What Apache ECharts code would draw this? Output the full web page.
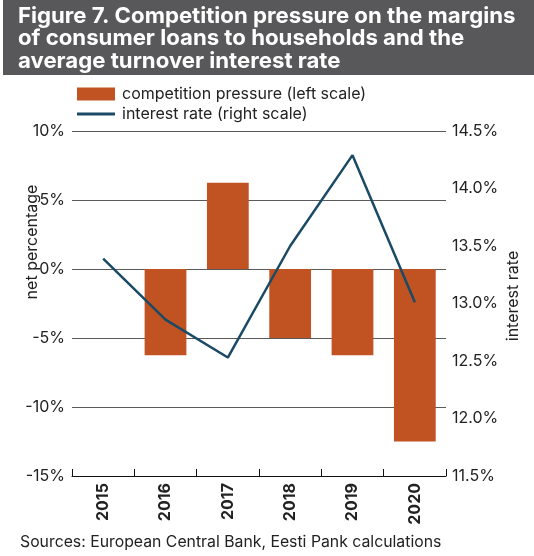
<!DOCTYPE html>
<html>
<head>
<meta charset="utf-8">
<script src="https://cdn.jsdelivr.net/npm/echarts@6/dist/echarts.min.js"></script>
<style>
  html, body { margin: 0; padding: 0; background: #fff; }
  #chart { width: 534px; height: 556px; }
</style>
</head>
<body>
<div id="chart"></div>
<script>
// Years on the category axis
var years = ['2015', '2016', '2017', '2018', '2019', '2020'];
// Net percentage of banks reporting competition pressure on margins (left scale)
var competitionPressure = [0, -6.25, 6.25, -5.0, -6.25, -12.5];
// Average turnover interest rate on consumer loans (right scale)
var interestRate = [13.39, 12.86, 12.53, 13.5, 14.29, 13.01];

var titleText = 'Figure 7. Competition pressure on the margins\nof consumer loans to households and the\naverage turnover interest rate';
var sourceText = 'Sources: European Central Bank, Eesti Pank calculations';
var barName = 'competition pressure (left scale)';
var lineName = 'interest rate (right scale)';
var leftAxisName = 'net percentage';
var rightAxisName = 'interest rate';

var FONT = 'Inter, "Liberation Sans", Arial, sans-serif';
var TEXT = '#222';
var FS = 16;
var chart = echarts.init(document.getElementById('chart'), null, { renderer: 'canvas' });

chart.setOption({
  animation: false,
  textStyle: { fontFamily: FONT },
  graphic: [
    { type: 'rect', left: 3, top: 0, shape: { width: 531, height: 75 }, style: { fill: '#58585a' }, z: 0 },
    { type: 'text', left: 18, top: 5, z: 1,
      style: { text: titleText, fill: '#ffffff', font: 'bold 22.2px ' + FONT, lineHeight: 22.5 } },
    { type: 'text', x: 32, y: 242, rotation: Math.PI / 2, z: 1,
      style: { text: leftAxisName, fill: TEXT, font: FS + 'px ' + FONT, align: 'center', verticalAlign: 'middle' } },
    { type: 'text', x: 513, y: 296, rotation: Math.PI / 2, z: 1,
      style: { text: rightAxisName, fill: TEXT, font: FS + 'px ' + FONT, align: 'center', verticalAlign: 'middle' } },
    { type: 'text', left: 20, top: 534, z: 1,
      style: { text: sourceText, fill: TEXT, font: '15.8px ' + FONT } }
  ],
  legend: {
    orient: 'vertical',
    left: 72,
    top: 81,
    itemWidth: 38,
    itemHeight: 13,
    itemGap: 4,
    textStyle: { fontSize: FS, color: TEXT, fontFamily: FONT, padding: [0, 0, 0, 2] },
    data: [
      { name: barName, icon: 'rect' },
      { name: lineName, icon: 'path://M0,0 L38,0 L38,3 L0,3 Z', itemStyle: { color: '#1b4a66' } }
    ]
  },
  grid: { left: 72, right: 88, top: 131, bottom: 80, outerBoundsMode: 'none', containLabel: false },
  xAxis: {
    type: 'category',
    data: years,
    position: 'bottom',
    axisLine: { onZero: false, lineStyle: { color: '#111', width: 1 } },
    axisTick: { show: true, inside: true, length: 7, lineStyle: { color: '#111' } },
    axisLabel: { rotate: 90, fontWeight: 'bold', fontSize: FS, color: TEXT, margin: 7, fontFamily: FONT },
    splitLine: { show: false }
  },
  yAxis: [
    {
      type: 'value',
      min: -15, max: 10, interval: 5,
      axisLine: { show: false },
      axisTick: { show: false },
      axisLabel: { fontSize: FS, color: TEXT, margin: 7, formatter: function (v) { return v + '%'; } },
      splitLine: { show: true, lineStyle: { color: '#5a5a5a', width: 1 } }
    },
    {
      type: 'value',
      min: 11.5, max: 14.5, interval: 0.5,
      axisLine: { show: false },
      axisTick: { show: false },
      axisLabel: { fontSize: FS, color: TEXT, margin: 6, formatter: function (v) { return v.toFixed(1) + '%'; } },
      splitLine: { show: false }
    }
  ],
  series: [
    {
      name: barName,
      type: 'bar',
      yAxisIndex: 0,
      data: competitionPressure,
      barWidth: '67%',
      itemStyle: { color: '#c05321' },
      z: 2
    },
    {
      name: lineName,
      type: 'line',
      yAxisIndex: 1,
      data: interestRate,
      symbol: 'none',
      showSymbol: false,
      lineStyle: { color: '#1b4a66', width: 2.5 },
      itemStyle: { color: '#1b4a66' },
      z: 3
    }
  ]
});
</script>
</body>
</html>
